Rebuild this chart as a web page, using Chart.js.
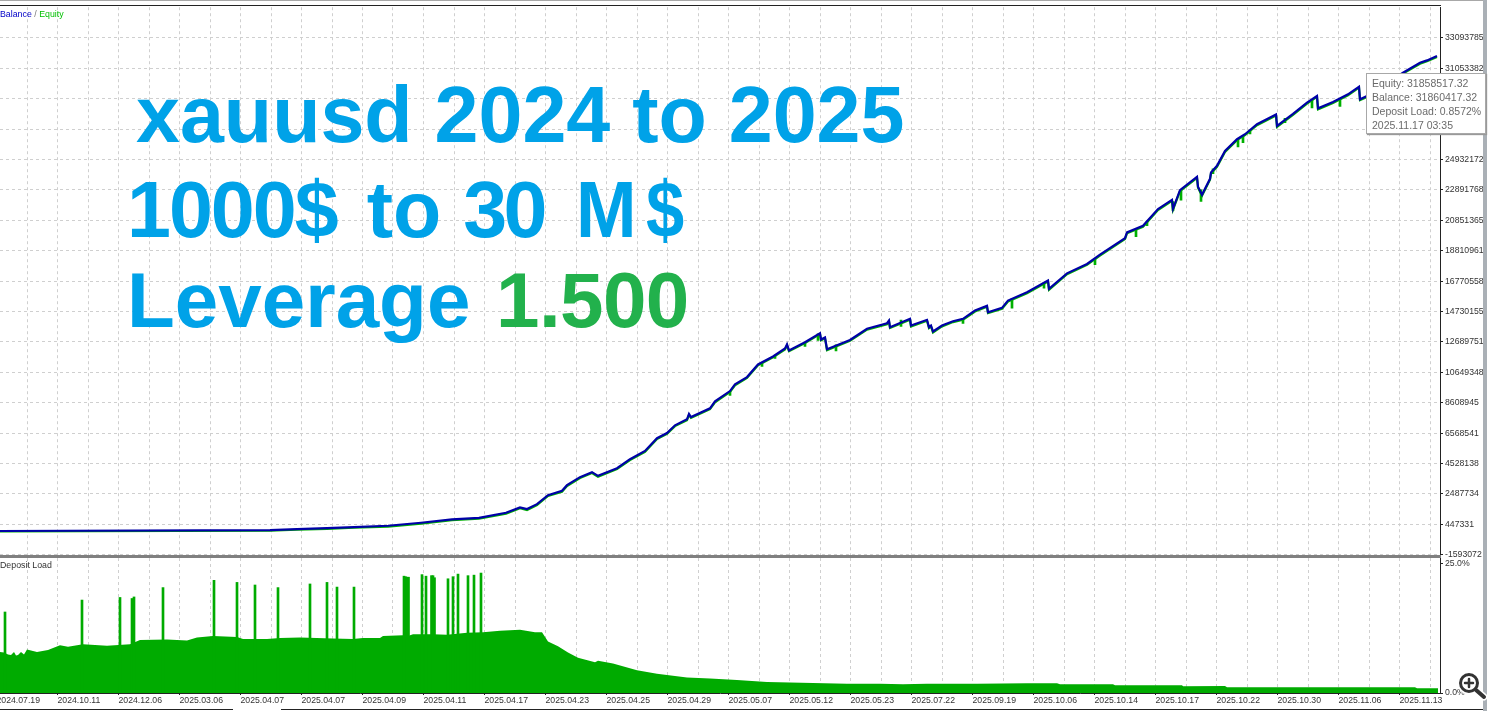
<!DOCTYPE html>
<html>
<head>
<meta charset="utf-8">
<title>xauusd 2024 to 2025</title>
<script src="https://cdn.jsdelivr.net/npm/chart.js@4/dist/chart.umd.min.js"></script>
<style>
  html, body { margin: 0; padding: 0; background: #fff; }
  #page { position: relative; width: 1500px; height: 711px; overflow: hidden; font-family: "Liberation Sans", sans-serif; }
  canvas { position: absolute; left: 0; }
  .rule { position: absolute; }
  .big { position: absolute; font: bold 79px/79px "Liberation Sans", sans-serif; color: #00a2e8; white-space: nowrap; }
  .big .num { color: #22b14c; margin-left: 4px; letter-spacing: -0.6px; }
  .tag { position: absolute; left: 0; font-size: 8.8px; line-height: 11px; color: #333; white-space: nowrap; }
  #tip { position: absolute; left: 1366px; top: 73px; width: 120px; height: 61px; box-sizing: border-box; background: #fff;
    border: 1px solid #a8a8a8; box-shadow: 1px 1px 1px #999; padding: 2px 0 0 5px; color: #6b6b6b; font-size: 10.5px; line-height: 14px; white-space: nowrap; }
</style>
</head>
<body>
<div id="page">
  <canvas id="main" style="top:0" width="1500" height="570"></canvas>
  <canvas id="load" style="top:550px" width="1500" height="161"></canvas>

  <div class="rule" style="left:0;top:0;width:1484px;height:1px;background:#a8a8a8"></div>
  <div class="rule" style="left:0;top:5px;width:1441px;height:1px;background:#222"></div>
  <div class="rule" style="left:0;top:555px;width:1441px;height:3px;background:#808080"></div>
  <div class="rule" style="left:0;top:709px;width:233px;height:1px;background:#222"></div>
  <div class="rule" style="left:281px;top:709px;width:1202px;height:1px;background:#222"></div>
  <div class="rule" style="left:1483px;top:0;width:4px;height:711px;background:#aab0b6"></div>

  <div class="tag" style="top:9px"><span style="color:#0000c8">Balance</span> <span style="color:#777">/</span> <span style="color:#00c000">Equity</span></div>
  <div class="tag" style="top:560px">Deposit Load</div>

  <div class="big" style="left:136px;top:75px">xauusd 2024 to 2025</div>
  <div class="big" style="left:127px;top:170px"><span style="letter-spacing:-2px">1000$</span><span style="margin-left:8px"> to </span><span style="letter-spacing:-3.5px">30</span> <span style="margin-left:10px;display:inline-block;transform:scaleX(.92);transform-origin:left">M</span><span style="margin-left:4px;display:inline-block;transform:scaleX(.87);transform-origin:left">$</span></div>
  <div class="big" style="left:127px;top:261px;font-size:78.2px">Leverage <span class="num">1.500</span></div>

  <div id="tip">Equity: 31858517.32<br>Balance: 31860417.32<br>Deposit Load: 0.8572%<br>2025.11.17 03:35</div>

  <svg style="position:absolute;left:1455px;top:670px" width="34" height="32" viewBox="0 0 34 32">
    <g fill="none" stroke-linecap="round">
      <circle cx="14" cy="13" r="8.5" stroke="#fff" stroke-width="6"/>
      <line x1="21" y1="20" x2="29" y2="27" stroke="#fff" stroke-width="7"/>
      <circle cx="14" cy="13" r="8.5" stroke="#333" stroke-width="3"/>
      <line x1="21" y1="20" x2="29" y2="27" stroke="#333" stroke-width="4"/>
      <line x1="10" y1="13" x2="18" y2="13" stroke="#333" stroke-width="2.5"/>
      <line x1="14" y1="9" x2="14" y2="17" stroke="#333" stroke-width="2.5"/>
    </g>
  </svg>
</div>

<script>
// Tick labels
const dateLabels = ['2024.07.19', '2024.10.11', '2024.12.06', '2025.03.06', '2025.04.07', '2025.04.07', '2025.04.09', '2025.04.11',
  '2025.04.17', '2025.04.23', '2025.04.25', '2025.04.29', '2025.05.07', '2025.05.12', '2025.05.23', '2025.07.22',
  '2025.09.19', '2025.10.06', '2025.10.14', '2025.10.17', '2025.10.22', '2025.10.30', '2025.11.06', '2025.11.13'];
const moneyTicks = [-1593072, 447331, 2487734, 4528138, 6568541, 8608945, 10649348, 12689751, 14730155, 16770558,
  18810961, 20851365, 22891768, 24932172, 26972575, 29012978, 31053382, 33093785];
const loadTicks = [0, 25];

// Balance / equity (x = bar position)
const curveX = [0, 270, 297, 327, 354, 388, 421, 452, 479, 506, 520, 527, 537, 548, 562, 567, 580, 592, 598, 617, 630, 645, 657, 667, 675, 687, 689, 691,
  710, 715, 730, 735, 747, 758, 773, 785, 787, 789, 805, 820, 821, 825, 827, 850, 867, 887, 889, 890, 910, 911, 927, 929, 931, 933, 942, 953, 963,
  975, 987, 988, 1002, 1008, 1027, 1048, 1049, 1067, 1087, 1100, 1125, 1127, 1143, 1158, 1172, 1173, 1180, 1197, 1198, 1202, 1210, 1211, 1217, 1225,
  1237, 1245, 1257, 1276, 1277, 1293, 1307, 1317, 1318, 1333, 1348, 1359, 1360, 1367, 1385, 1403, 1420, 1427, 1437];
const balance = [1000, 65700, 132600, 199600, 266500, 353600, 554400, 782000, 889000, 1224000, 1585000, 1472000, 1806000, 2409000, 2697000, 3079000, 3614000, 3949000, 3701000, 4217000, 4820000, 5375000, 6226000, 6580000, 7096000, 7498000, 7853000, 7652000,
  8234000, 8703000, 9393000, 9841000, 10330000, 11180000, 11716000, 12251000, 12519000, 12118000, 12673000, 13276000, 12854000, 12988000, 12205000, 12821000, 13570000, 13945000, 14126000, 13678000, 14240000, 13791000, 14173000, 13678000, 13791000, 13390000, 13791000, 14079000, 14240000,
  14796000, 15110000, 14682000, 14977000, 15465000, 16021000, 16804000, 16248000, 17293000, 17923000, 18545000, 19650000, 20038000, 20487000, 21605000, 22227000, 21625000, 22877000, 23767000, 23098000, 22562000, 23634000, 24056000, 24504000, 25508000,
  26292000, 26627000, 27297000, 27952000, 27182000, 27986000, 28743000, 29191000, 28367000, 28790000, 29305000, 29814000, 28970000, 29191000, 29928000, 30751000, 31421000, 31581000, 31869000];
const equity = [-30000, 20000, 85000, 150000, 220000, 300000, 500000, 725000, 830000, 1170000, 1530000, 1410000, 1750000, 2350000, 2640000, 3020000, 3560000, 3890000, 3640000, 4160000, 4760000, 5320000, 6170000, 6520000, 7040000, 7440000, 7800000, 7600000,
  8180000, 8640000, 9330000, 9780000, 10270000, 11120000, 11660000, 12190000, 12460000, 12060000, 12610000, 13210000, 12800000, 12930000, 12140000, 12760000, 13510000, 13880000, 14070000, 13620000, 14180000, 13730000, 14110000, 13620000, 13730000, 13320000, 13730000, 14020000, 14180000,
  14730000, 15050000, 14620000, 14920000, 15400000, 15960000, 16740000, 16190000, 17230000, 17860000, 18480000, 19590000, 19980000, 20420000, 21540000, 22160000, 21560000, 22810000, 23700000, 23040000, 22500000, 23570000, 23990000, 24440000, 25440000,
  26230000, 26560000, 27230000, 27890000, 27120000, 27920000, 28680000, 29130000, 28300000, 28730000, 29240000, 29750000, 28910000, 29130000, 29860000, 30690000, 31360000, 31520000, 31810000];

// Short equity dips under the balance line
const dipX = [730, 762, 775, 805, 818, 836, 901, 963, 1012, 1044, 1095, 1136, 1147, 1173, 1181, 1201, 1213, 1238, 1243, 1250, 1285, 1312, 1340];
const dipLow = [9104000, 11046000, 11582000, 12385000, 12787000, 12084000, 13725000, 13925000, 14963000, 16302000, 17876000, 19750000, 20487000, 21491000, 22207000, 22114000, 23988000, 25776000, 26064000, 26647000, 27403000, 28387000, 28487000];
const dipHigh = [9372000, 11314000, 11783000, 12673000, 13240000, 12500000, 14150000, 14240000, 15600000, 16680000, 18300000, 20200000, 20800000, 22100000, 22900000, 22900000, 24300000, 26300000, 26500000, 26900000, 27700000, 28900000, 29000000];

// Deposit load in percent
const loadX = [0, 4, 8, 11, 14, 16, 18, 21, 24, 27, 37, 48, 60, 68, 83, 107, 130, 140, 167, 187, 197, 213, 237, 243, 267, 280, 300, 333, 353, 363, 380, 383, 403, 408, 413, 433, 447, 467, 483,
  500, 520, 535, 542, 548, 558, 568, 578, 595, 598, 613, 637, 657, 687, 710, 737, 767, 790, 847, 880, 903, 927, 977, 1027, 1057, 1060, 1113, 1115, 1182, 1183, 1225, 1227, 1415, 1417, 1438];
const load = [7.9, 7.8, 7.4, 7.3, 7.9, 7.2, 7.3, 7.9, 7.4, 8.4, 7.9, 8.3, 9.2, 8.9, 9.4, 9.1, 9.4, 10.2, 10.3, 10.1, 10.7, 11, 10.8, 10.4, 10.4, 10.6, 10.7, 10.5, 10.4, 10.6, 10.6, 11, 11.1, 11, 11.3, 11.3, 11.2, 11.6, 11.7,
  12, 12.2, 11.7, 11.7, 9.9, 9, 7.8, 6.8, 5.9, 6.2, 5.7, 4.4, 3.7, 3, 2.8, 2.5, 2.1, 2, 1.8, 1.8, 1.7, 1.8, 1.8, 1.9, 1.9, 1.7, 1.7, 1.5, 1.5, 1.3, 1.35, 1.1, 1.1, 0.9, 0.9];
const spikeX = [5, 82, 120, 132, 134, 163, 214, 237, 255, 278, 310, 327, 337, 354, 404, 405.5, 407, 408.5, 422, 426, 431.5, 433, 434.5, 448, 453, 458, 468, 474, 481];
const spikeLoad = [15.6, 17.9, 18.4, 18.2, 18.5, 20.3, 21.7, 21.3, 20.8, 20.3, 21, 21.3, 20.4, 20.4, 22.5, 22.4, 22.3, 22.3, 22.8, 22.5, 22.6, 22.6, 22.2, 22, 22.4, 22.9, 22.6, 22.7, 23.1];

const pairs = (xs, ys) => xs.map((x, i) => ({ x, y: ys[i] }));

const GRID = '#cfcfcf';
const DASH = [3, 3];
const AXIS = '#222';
const TEXT = '#333';
const LABEL_FONT = { family: '"Liberation Sans", sans-serif', size: 8.7 };
const GREEN = '#00ab00';

// Vertical grid runs every 30.5 px, every second one carries a date
function xAxis(withLabels) {
  return {
    type: 'linear',
    min: 0,
    max: 1440,
    offset: false,
    afterBuildTicks: (scale) => {
      const ticks = [];
      for (let i = 0; i < dateLabels.length * 2; i++) ticks.push({ value: -3.5 + i * 30.5 });
      scale.ticks = ticks;
    },
    afterFit: (scale) => {
      scale.height = withLabels ? 18 : 0;
      scale.paddingLeft = 0; // date labels may run off the left edge
      scale.paddingRight = 0;
    },
    grid: {
      offset: false,
      color: (ctx) => (ctx.index === 0 ? 'transparent' : GRID),
      drawTicks: withLabels,
      tickLength: 2,
      tickColor: (ctx) => (ctx.index % 2 === 0 ? AXIS : 'transparent'),
    },
    border: { display: withLabels, color: AXIS, dash: DASH },
    ticks: {
      display: withLabels,
      autoSkip: false,
      maxRotation: 0,
      minRotation: 0,
      align: 'start',
      padding: 0,
      color: TEXT,
      font: LABEL_FONT,
      callback: (value, index) => (index % 2 === 0 ? dateLabels[index / 2] : ''),
    },
  };
}

const common = {
  responsive: false,
  animation: false,
  events: [],
  plugins: { legend: { display: false }, tooltip: { enabled: false } },
};

new Chart(document.getElementById('main'), {
  type: 'line',
  data: {
    datasets: [
      { label: 'Balance', data: pairs(curveX, balance), borderColor: '#0000a8', borderWidth: 2.2, pointRadius: 0, tension: 0, order: 1 },
      { label: 'Equity', data: pairs(curveX, equity), borderColor: '#00b000', borderWidth: 2.2, pointRadius: 0, tension: 0, order: 2 },
      {
        type: 'bar',
        label: 'Equity dips',
        data: dipX.map((x, i) => ({ x, y: [dipLow[i], dipHigh[i]] })),
        backgroundColor: '#00b000',
        barThickness: 2,
        grouped: false,
        order: 3,
      },
    ],
  },
  options: {
    ...common,
    layout: { padding: { top: 6, bottom: 14, left: 0, right: 0 } },
    scales: {
      x: xAxis(false),
      y: {
        position: 'right',
        min: -1675000,
        max: 35149000,
        afterBuildTicks: (scale) => { scale.ticks = moneyTicks.map((value) => ({ value })); },
        afterFit: (scale) => { scale.width = 60; },
        grid: { color: GRID, tickLength: 3, tickColor: AXIS },
        border: { display: true, color: AXIS, dash: DASH },
        ticks: { autoSkip: false, padding: 2, color: TEXT, font: LABEL_FONT, callback: (value) => String(value) },
      },
    },
  },
});

new Chart(document.getElementById('load'), {
  type: 'line',
  data: {
    datasets: [
      { label: 'Deposit Load', data: pairs(loadX, load), borderWidth: 0, backgroundColor: GREEN, fill: 'start', pointRadius: 0, tension: 0, order: 2 },
      { type: 'bar', label: 'Deposit Load peaks', data: pairs(spikeX, spikeLoad), backgroundColor: GREEN, barThickness: 2, grouped: false, order: 1 },
    ],
  },
  options: {
    ...common,
    layout: { padding: { top: 8, bottom: 0, left: 0, right: 0 } },
    scales: {
      x: xAxis(true),
      y: {
        position: 'right',
        min: 0,
        max: 26,
        afterBuildTicks: (scale) => { scale.ticks = loadTicks.map((value) => ({ value })); },
        afterFit: (scale) => { scale.width = 60; },
        grid: { drawOnChartArea: false, tickLength: 3, tickColor: AXIS },
        border: { display: true, color: AXIS },
        ticks: { autoSkip: false, padding: 2, color: TEXT, font: LABEL_FONT, callback: (value) => value.toFixed(1) + '%' },
      },
    },
  },
});
</script>
</body>
</html>
